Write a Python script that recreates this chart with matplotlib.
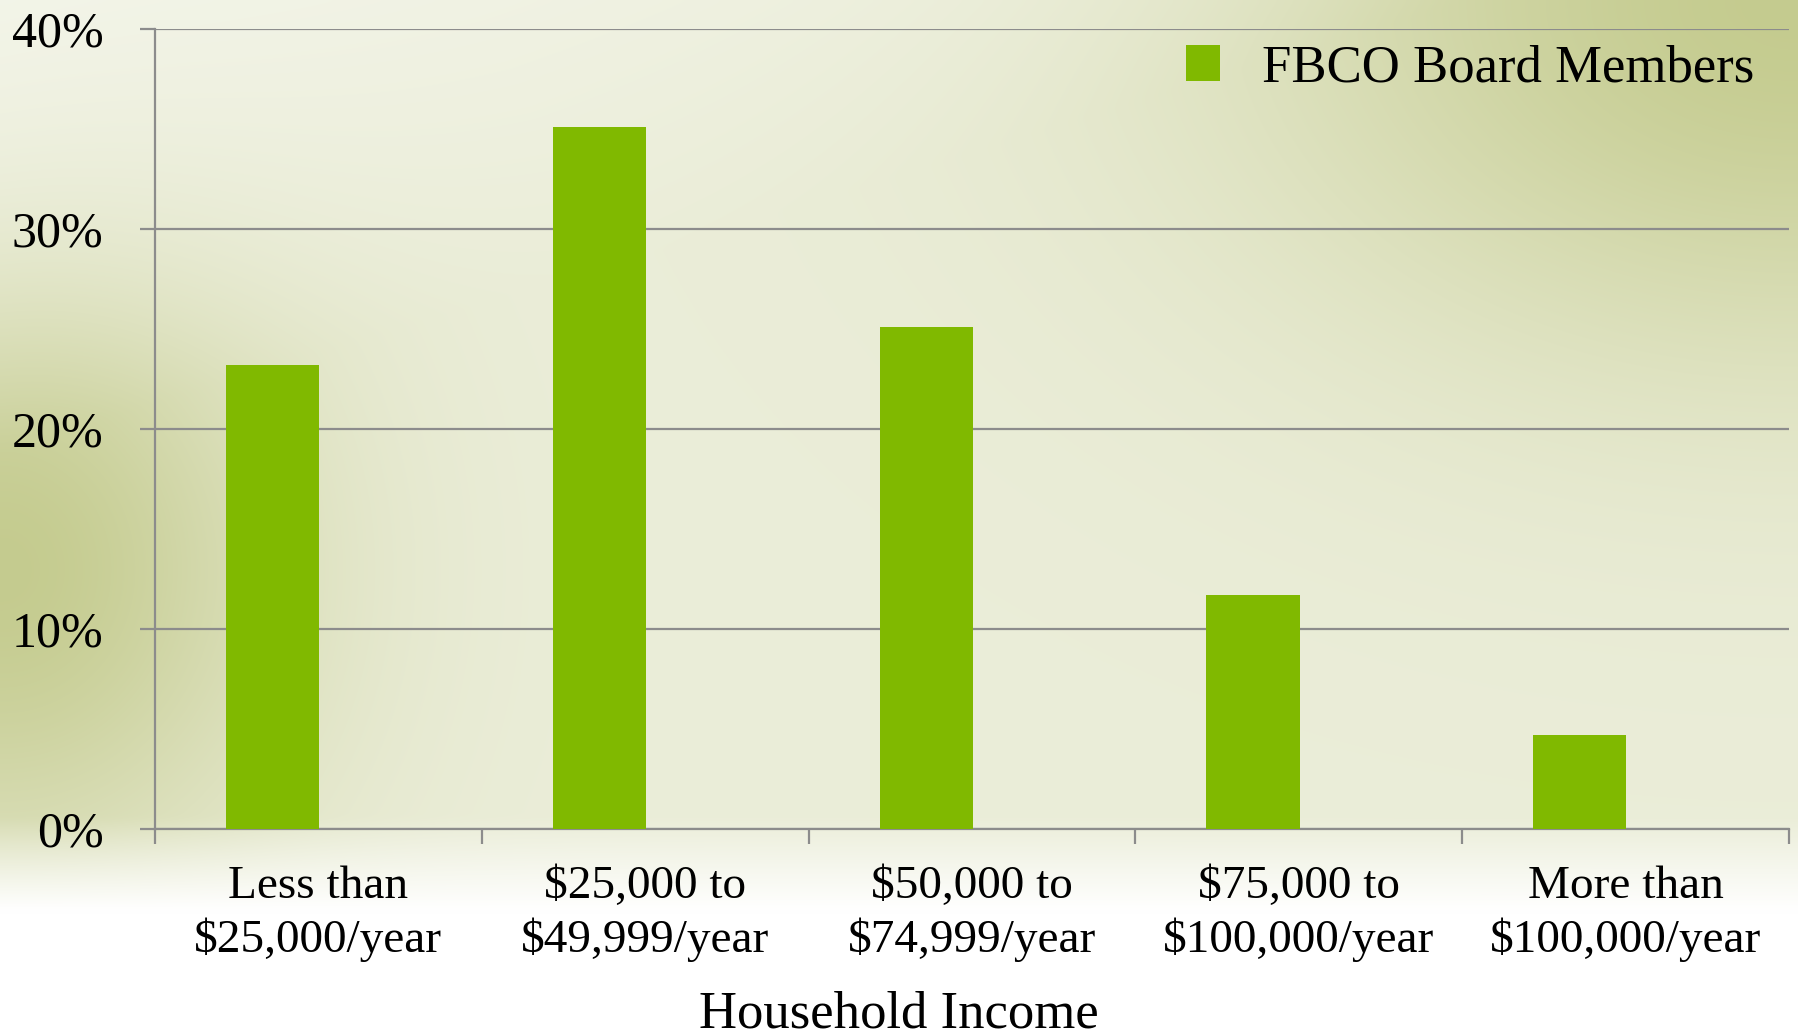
import matplotlib.pyplot as plt
import numpy as np
from matplotlib.colors import to_rgb

categories = ["Less than\n$25,000/year", "$25,000 to\n$49,999/year",
              "$50,000 to\n$74,999/year", "$75,000 to\n$100,000/year",
              "More than\n$100,000/year"]
board_pct = [23.2, 35.1, 25.1, 11.7, 4.7]
y_ticks = [0, 10, 20, 30, 40]
y_labels = ["0%", "10%", "20%", "30%", "40%"]

plt.rcParams['font.family'] = ['Liberation Serif', 'DejaVu Serif']

fig = plt.figure(figsize=(17.98, 10.36), dpi=100)

# soft green slide background, fading to white at the bottom
h, w = 260, 450
yy, xx = np.mgrid[0:1:h * 1j, 0:1:w * 1j]
left_blob = np.exp(-((xx / 0.16) ** 2 + ((yy - 0.55) / 0.3) ** 2))
right_blob = np.exp(-(((1 - xx) / 0.3) ** 2 + (yy / 0.35) ** 2))
wgt = 0.25 + 0.72 * np.maximum(left_blob, right_blob)
wgt *= np.clip(0.35 + yy * 1.5 + xx * 0.8, 0, 1)
wgt = np.clip(wgt, 0, 1)[..., None]
light = np.array(to_rgb('#f8f9f2'))
olive = np.array(to_rgb('#c3ca8c'))
img = light * (1 - wgt) + olive * wgt
fade = np.clip((yy - 0.79) / 0.09, 0, 1)[..., None]
img = img * (1 - fade) + np.ones(3) * fade
bg = fig.add_axes([0, 0, 1, 1], zorder=-1)
bg.imshow(img, aspect='auto', extent=[0, 1, 0, 1], interpolation='bicubic')
bg.axis('off')

ax = fig.add_axes([0.0862, 0.1998, 0.9088, 0.7722])
ax.set_facecolor('none')
x = np.arange(len(categories))
ax.bar(x - 0.14, board_pct, width=0.285, color='#80b900', zorder=3,
       label='FBCO Board Members')

ax.set_xlim(-0.5, len(categories) - 0.5)
ax.set_ylim(0, 40)
ax.set_yticks(y_ticks)
ax.set_yticklabels(y_labels)
ax.yaxis.grid(True, color='#8c8c8c', linewidth=1.6, zorder=1)
ax.set_axisbelow(True)

ax.set_xticks(x)
ax.set_xticklabels(categories, linespacing=1.3)
ax.set_xticks(np.arange(len(categories) + 1) - 0.5, minor=True)
ax.tick_params(axis='x', which='major', length=0, pad=26, labelsize=34)
ax.tick_params(axis='x', which='minor', length=11, width=1.6, color='#8c8c8c')
ax.tick_params(axis='y', length=11, width=1.6, color='#8c8c8c', pad=26,
               labelsize=36)

for s in ['top', 'right']:
    ax.spines[s].set_visible(False)
for s in ['left', 'bottom']:
    ax.spines[s].set_color('#8c8c8c')
    ax.spines[s].set_linewidth(1.6)

fig.text(0.5, 0.0203, "Household Income", ha='center', va='center', fontsize=38)

ax.legend(loc='upper right', bbox_to_anchor=(1.008, 1.04), frameon=False,
          fontsize=38, handlelength=0.65, handleheight=0.65, handletextpad=0.8)

fig.savefig('out.png', dpi=100)
